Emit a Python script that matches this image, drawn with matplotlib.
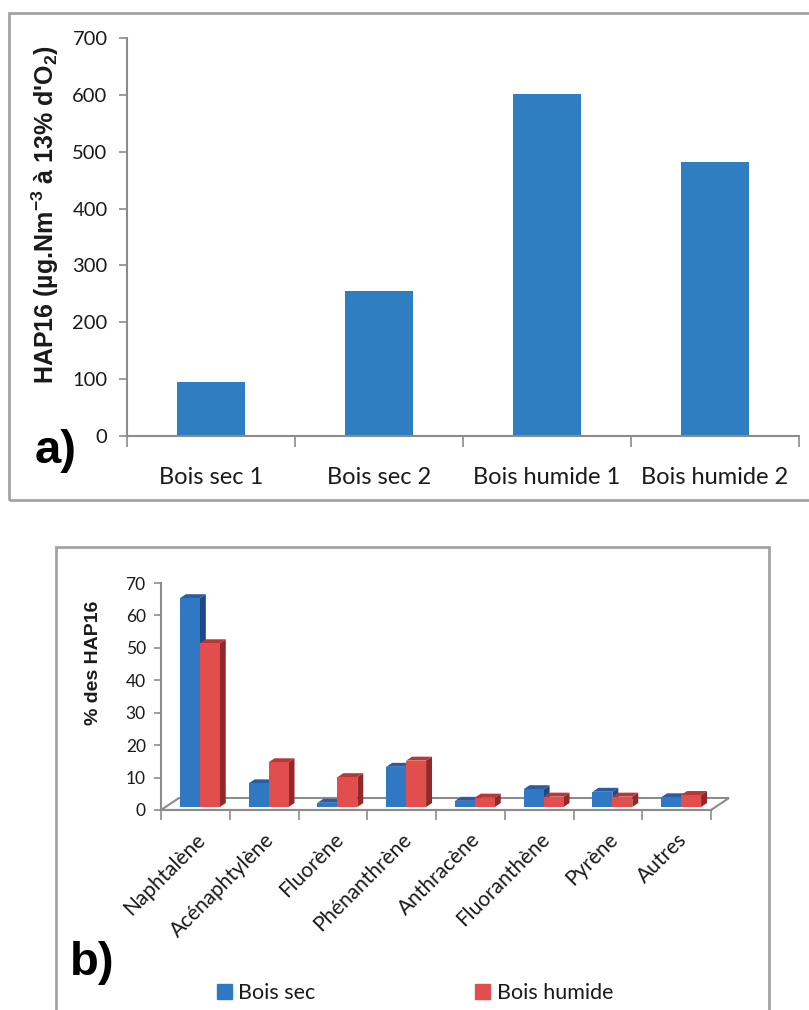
import matplotlib
matplotlib.use("Agg")
import matplotlib.pyplot as plt
from matplotlib.patches import Rectangle, Polygon, Patch

# ---------------- data ----------------
cat_a = ["Bois sec 1", "Bois sec 2", "Bois humide 1", "Bois humide 2"]
val_a = [95, 255, 601, 482]

cat_b = ["Naphtalène", "Acénaphtylène", "Fluorène", "Phénanthrène",
         "Anthracène", "Fluoranthène", "Pyrène", "Autres"]
bois_sec = [64.4, 7.3, 1.3, 12.4, 1.9, 5.5, 4.7, 3.0]
bois_humide = [50.5, 13.8, 9.2, 14.3, 2.9, 3.2, 3.2, 3.7]
series_b = ["Bois sec", "Bois humide"]

ylabel_a = "HAP16 (µg.Nm$^{\\mathbf{-3}}$ à 13% d'O$_{\\mathbf{2}}$)"
ylabel_b = "% des HAP16"

# ---------------- style ----------------
plt.rcParams['font.family'] = ['Lato', 'DejaVu Sans']
plt.rcParams['mathtext.fontset'] = 'custom'
plt.rcParams['mathtext.rm'] = 'Liberation Sans:bold'
plt.rcParams['mathtext.bf'] = 'Liberation Sans:bold'
plt.rcParams['mathtext.it'] = 'Liberation Sans:bold'

W, H = 809, 1010
fig = plt.figure(figsize=(W / 100, H / 100), dpi=100)
fig.patch.set_facecolor('white')

def fx(x):
    return x / W

def fy(y):
    return 1 - y / H

GRAY = '#A3A3A3'
AXG = '#8C8C8C'
TXT = '#1a1a1a'

# panel frames
fig.patches.append(Rectangle((fx(9), fy(500)), fx(820) - fx(9), fy(13) - fy(500),
                             transform=fig.transFigure, fill=False, ec=GRAY, lw=2))
fig.patches.append(Rectangle((fx(56), fy(1020)), fx(769) - fx(56), fy(547) - fy(1020),
                             transform=fig.transFigure, fill=False, ec=GRAY, lw=2))

# ---------------- panel a ----------------
axa = fig.add_axes([fx(127), fy(436), fx(799) - fx(127), fy(38) - fy(436)])
xa = list(range(len(cat_a)))
axa.bar(xa, val_a, width=0.4, color='#2E7EC1', zorder=2)
axa.set_xlim(-0.5, len(cat_a) - 0.5)
axa.set_ylim(0, 700)
axa.set_yticks(range(0, 701, 100))
axa.set_xticks(xa)
axa.set_xticklabels(cat_a, fontsize=17, color=TXT)
axa.set_xticks([i - 0.5 for i in range(len(cat_a) + 1)], minor=True)
axa.tick_params(axis='x', which='major', length=0, pad=22)
axa.tick_params(axis='x', which='minor', length=8, width=1.2, color=AXG, direction='out')
axa.tick_params(axis='y', which='major', length=6, width=1.2, color=AXG,
                direction='out', labelsize=14.5, labelcolor=TXT, pad=8)
for s in ['top', 'right']:
    axa.spines[s].set_visible(False)
for s in ['left', 'bottom']:
    axa.spines[s].set_color(AXG)
    axa.spines[s].set_linewidth(1.5)
fig.text(fx(45), fy(215), ylabel_a, rotation=90, ha='center', va='center',
         fontsize=18, fontweight='bold', family='Liberation Sans', color=TXT)
fig.text(fx(35), fy(451), "a)", ha='left', va='center', fontsize=34,
         fontweight='bold', family='Liberation Sans', color='black')

# ---------------- panel b (pseudo-3D) ----------------
axb = fig.add_axes([fx(161), fy(810), fx(711) - fx(161), fy(583) - fy(810)])
n = len(cat_b)
axb.set_xlim(-0.5, n - 0.5)
axb.set_ylim(0, 70)
DX, DY = 0.262, 3.7          # full floor depth in data units
t0, t1 = 0.25, 0.58          # bar depth span (fraction of floor depth)
bw = 0.29

# floor
floor = Polygon([(-0.5, 0), (n - 0.5, 0), (n - 0.5 + DX, DY), (-0.5 + DX, DY)],
                closed=True, fill=False, ec=AXG, lw=1.5, clip_on=False, zorder=1)
axb.add_patch(floor)

cols = [('#2F79C4', '#2A5CA3', '#1D4A85'), ('#E14E4D', '#B83737', '#922828')]
z = 3
for i in range(n):
    for k, vals in enumerate([bois_sec, bois_humide]):
        v = vals[i]
        front, top, side = cols[k]
        x0 = i - bw + k * bw + t0 * DX
        x1 = x0 + bw
        yb = t0 * DY
        yt = v + t0 * DY
        ddx = (t1 - t0) * DX
        ddy = (t1 - t0) * DY
        axb.add_patch(Polygon([(x1, yb), (x1 + ddx, yb + ddy), (x1 + ddx, yt + ddy), (x1, yt)],
                              closed=True, fc=side, ec='none', zorder=z, clip_on=False))
        axb.add_patch(Polygon([(x0, yt), (x1, yt), (x1 + ddx, yt + ddy), (x0 + ddx, yt + ddy)],
                              closed=True, fc=top, ec='none', zorder=z, clip_on=False))
        axb.bar(x0, v, width=bw, bottom=yb, align='edge', color=front, zorder=z + 0.5,
                clip_on=False)
        z += 1

axb.set_yticks(range(0, 71, 10))
axb.set_xticks(range(n))
axb.set_xticklabels(cat_b, rotation=45, ha='right', va='top', rotation_mode='anchor',
                    fontsize=15, color=TXT)
axb.set_xticks([i - 0.5 for i in range(n + 1)], minor=True)
axb.tick_params(axis='x', which='major', length=0, pad=14)
axb.tick_params(axis='x', which='minor', length=7, width=1.2, color=AXG, direction='out')
axb.tick_params(axis='y', which='major', length=5, width=1.2, color=AXG,
                direction='out', labelsize=12.5, labelcolor=TXT, pad=6)
for s in ['top', 'right']:
    axb.spines[s].set_visible(False)
for s in ['left', 'bottom']:
    axb.spines[s].set_color(AXG)
    axb.spines[s].set_linewidth(1.5)
fig.text(fx(93), fy(663), ylabel_b, rotation=90, ha='center', va='center',
         fontsize=14, fontweight='bold', family='Liberation Sans', color=TXT)
fig.text(fx(70), fy(963), "b)", ha='left', va='center', fontsize=34,
         fontweight='bold', family='Liberation Sans', color='black')

handles = [Patch(color=cols[0][0]), Patch(color=cols[1][0])]
fig.legend(handles, series_b, loc='center', bbox_to_anchor=(fx(415), fy(993)),
           ncol=2, frameon=False, fontsize=15.5, handlelength=0.7, handleheight=0.7,
           handletextpad=0.3, columnspacing=7.4, labelcolor=TXT)

fig.savefig("out.png", dpi=100, facecolor='white')
